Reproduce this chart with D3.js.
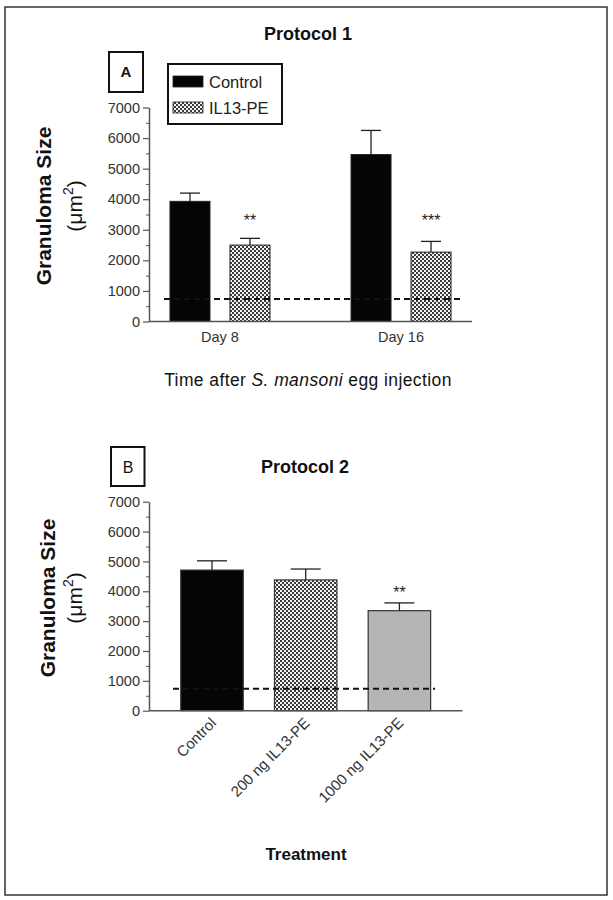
<!DOCTYPE html>
<html>
<head>
<meta charset="utf-8">
<script src="https://cdn.jsdelivr.net/npm/d3@7"></script>
<style>
  html, body { margin: 0; padding: 0; background: #fff; }
  svg { display: block; }
  text { font-family: "Liberation Sans", Arial, Helvetica, sans-serif; }
</style>
</head>
<body>
<svg id="chart" width="613" height="900"></svg>
<script>
// ---------- data ----------
const yTickValues = [0, 1000, 2000, 3000, 4000, 5000, 6000, 7000];
const yMinorValues = [500, 1500, 2500, 3500, 4500, 5500, 6500];

// Panel A (Protocol 1)
const daysA = ["Day 8", "Day 16"];
const seriesA = ["Control", "IL13-PE"];
const controlMeanA = [3930, 5460];
const controlUpperA = [4200, 6250];
const il13MeanA = [2500, 2270];
const il13UpperA = [2720, 2620];
const il13SigA = ["**", "***"];
const baselineA = 740;

// Panel B (Protocol 2)
const treatmentsB = ["Control", "200 ng IL13-PE", "1000 ng IL13-PE"];
const meanB = [4710, 4380, 3350];
const upperB = [5020, 4745, 3610];
const sigB = ["", "", "**"];
const baselineB = 735;

// ---------- setup ----------
const svg = d3.select("#chart");
const FONT = '"Liberation Sans", Arial, Helvetica, sans-serif';

const defs = svg.append("defs");
const pat = defs.append("pattern")
  .attr("id", "hatch")
  .attr("patternUnits", "userSpaceOnUse")
  .attr("width", 4).attr("height", 4);
pat.append("rect").attr("width", 4).attr("height", 4).attr("fill", "#f4f4f4");
pat.append("rect").attr("x", 0).attr("y", 0).attr("width", 2).attr("height", 2).attr("fill", "#3a3a3a");
pat.append("rect").attr("x", 2).attr("y", 2).attr("width", 2).attr("height", 2).attr("fill", "#3a3a3a");

// outer frame
svg.append("rect")
  .attr("x", 5).attr("y", 7).attr("width", 602).attr("height", 888)
  .attr("fill", "none").attr("stroke", "#333").attr("stroke-width", 1.5);

function yAxis(g, y, x0) {
  const ax = g.append("g").attr("transform", `translate(${x0},0)`)
    .call(d3.axisLeft(y).tickValues(yTickValues).tickSize(6).tickSizeOuter(0).tickPadding(3).tickFormat(d3.format("d")));
  ax.select(".domain").attr("stroke", "#555").attr("stroke-width", 1.5);
  ax.selectAll(".tick line").attr("stroke", "#555").attr("stroke-width", 1.2);
  ax.selectAll(".tick text").attr("font-size", 14.5).attr("fill", "#333").attr("font-family", FONT);
  const mn = g.append("g").attr("transform", `translate(${x0},0)`)
    .call(d3.axisLeft(y).tickValues(yMinorValues).tickSize(3).tickSizeOuter(0).tickFormat(""));
  mn.select(".domain").remove();
  mn.selectAll(".tick line").attr("stroke", "#555").attr("stroke-width", 1);
}

function yTitle(g, xMain, xUnit, cy) {
  g.append("text")
    .attr("transform", `translate(${xMain},${cy}) rotate(-90)`)
    .attr("text-anchor", "middle")
    .attr("font-size", 21).attr("font-weight", "bold").attr("fill", "#111")
    .text("Granuloma Size");
  const t = g.append("text")
    .attr("transform", `translate(${xUnit},${cy}) rotate(-90)`)
    .attr("text-anchor", "middle")
    .attr("font-size", 21).attr("fill", "#111");
  t.append("tspan").text("(\u03BCm");
  t.append("tspan").attr("font-size", 14).attr("dy", -9).text("2");
  t.append("tspan").attr("dy", 9).text(")");
}

function errorBar(g, cx, yTop, yUp, cap) {
  g.append("line").attr("x1", cx).attr("x2", cx).attr("y1", yTop).attr("y2", yUp)
    .attr("stroke", "#222").attr("stroke-width", 1.3);
  g.append("line").attr("x1", cx - cap / 2).attr("x2", cx + cap / 2).attr("y1", yUp).attr("y2", yUp)
    .attr("stroke", "#222").attr("stroke-width", 1.3);
}

// ---------- Panel A ----------
const gA = svg.append("g");
const xA = d3.scalePoint().domain(daysA).range([149, 472]).padding(0.392);
const xAi = d3.scaleBand().domain(seriesA).range([-50, 50]).paddingInner(1 / 3).paddingOuter(0);
const yA = d3.scaleLinear().domain([0, 7000]).range([321.5, 107.5]);

gA.append("text").attr("x", 308).attr("y", 40).attr("text-anchor", "middle")
  .attr("font-size", 18).attr("font-weight", "bold").attr("fill", "#111").text("Protocol 1");

// "A" label box
gA.append("rect").attr("x", 109).attr("y", 52).attr("width", 34).attr("height", 40)
  .attr("fill", "#fff").attr("stroke", "#111").attr("stroke-width", 2);
gA.append("text").attr("x", 126).attr("y", 77).attr("text-anchor", "middle")
  .attr("font-size", 15).attr("font-weight", "bold").attr("fill", "#111").text("A");

yAxis(gA, yA, 149);
yTitle(gA, 51, 82, 206);

const barsA = [];
daysA.forEach((d, i) => {
  barsA.push({ day: d, s: "Control", mean: controlMeanA[i], up: controlUpperA[i], sig: "" });
  barsA.push({ day: d, s: "IL13-PE", mean: il13MeanA[i], up: il13UpperA[i], sig: il13SigA[i] });
});
barsA.forEach(b => {
  const x = xA(b.day) + xAi(b.s);
  const w = xAi.bandwidth();
  gA.append("rect").attr("x", x).attr("y", yA(b.mean)).attr("width", w).attr("height", yA(0) - yA(b.mean))
    .attr("fill", b.s === "Control" ? "#050505" : "url(#hatch)")
    .attr("stroke", "#222").attr("stroke-width", 1);
  errorBar(gA, x + w / 2, yA(b.mean), yA(b.up), 20);
  if (b.sig) {
    gA.append("text").attr("x", x + w / 2).attr("y", 226).attr("text-anchor", "middle")
      .attr("font-size", 16).attr("fill", "#222").text(b.sig);
  }
});

// x axis A
gA.append("line").attr("x1", 149).attr("x2", 472).attr("y1", yA(0)).attr("y2", yA(0))
  .attr("stroke", "#555").attr("stroke-width", 1.5);
daysA.forEach(d => {
  gA.append("text").attr("x", xA(d)).attr("y", 342).attr("text-anchor", "middle")
    .attr("font-size", 14.5).attr("fill", "#333").text(d);
});

// dashed baseline A
gA.append("line").attr("x1", 164).attr("x2", 462).attr("y1", yA(baselineA)).attr("y2", yA(baselineA))
  .attr("stroke", "#111").attr("stroke-width", 2).attr("stroke-dasharray", "6,4");

// legend A
gA.append("rect").attr("x", 168).attr("y", 64).attr("width", 114).attr("height", 60)
  .attr("fill", "#fff").attr("stroke", "#111").attr("stroke-width", 2);
seriesA.forEach((s, i) => {
  const yy = 76 + i * 26;
  gA.append("rect").attr("x", 173).attr("y", yy).attr("width", 30).attr("height", 11)
    .attr("fill", s === "Control" ? "#050505" : "url(#hatch)").attr("stroke", "#222").attr("stroke-width", 0.8);
  gA.append("text").attr("x", 209).attr("y", yy + 11.5).attr("font-size", 16.5).attr("fill", "#222").text(s);
});

// x title A
const tA = gA.append("text").attr("x", 308).attr("y", 386).attr("text-anchor", "middle")
  .attr("font-size", 17.5).attr("fill", "#111").attr("letter-spacing", 0.4);
tA.append("tspan").text("Time after ");
tA.append("tspan").attr("font-style", "italic").text("S. mansoni");
tA.append("tspan").text(" egg injection");

// ---------- Panel B ----------
const gB = svg.append("g");
const xB = d3.scaleBand().domain(treatmentsB).range([149, 462.4]).paddingInner(1 / 3).paddingOuter(0.339);
const yB = d3.scaleLinear().domain([0, 7000]).range([710.7, 501.7]);

gB.append("rect").attr("x", 111).attr("y", 447).attr("width", 33.5).attr("height", 39)
  .attr("fill", "#fff").attr("stroke", "#111").attr("stroke-width", 2);
gB.append("text").attr("x", 128).attr("y", 473).attr("text-anchor", "middle")
  .attr("font-size", 16).attr("fill", "#111").text("B");

gB.append("text").attr("x", 305).attr("y", 473).attr("text-anchor", "middle")
  .attr("font-size", 18).attr("font-weight", "bold").attr("fill", "#111").text("Protocol 2");

yAxis(gB, yB, 149);
yTitle(gB, 55, 82, 598);

const fillsB = ["#050505", "url(#hatch)", "#b5b5b5"];
treatmentsB.forEach((t, i) => {
  const x = xB(t), w = xB.bandwidth();
  gB.append("rect").attr("x", x).attr("y", yB(meanB[i])).attr("width", w).attr("height", yB(0) - yB(meanB[i]))
    .attr("fill", fillsB[i]).attr("stroke", "#333").attr("stroke-width", 1.2);
  errorBar(gB, x + w / 2, yB(meanB[i]), yB(upperB[i]), 30);
  if (sigB[i]) {
    gB.append("text").attr("x", x + w / 2).attr("y", 598).attr("text-anchor", "middle")
      .attr("font-size", 16).attr("fill", "#222").text(sigB[i]);
  }
});

gB.append("line").attr("x1", 149).attr("x2", 462.4).attr("y1", yB(0)).attr("y2", yB(0))
  .attr("stroke", "#555").attr("stroke-width", 1.5);

treatmentsB.forEach(t => {
  const cx = xB(t) + xB.bandwidth() / 2;
  gB.append("text").attr("transform", `translate(${cx + 5},${724}) rotate(-45)`)
    .attr("text-anchor", "end").attr("font-size", 15).attr("fill", "#333").text(t);
});

gB.append("line").attr("x1", 173).attr("x2", 435).attr("y1", yB(baselineB)).attr("y2", yB(baselineB))
  .attr("stroke", "#111").attr("stroke-width", 2).attr("stroke-dasharray", "6,4");

gB.append("text").attr("x", 306).attr("y", 860).attr("text-anchor", "middle")
  .attr("font-size", 17).attr("font-weight", "bold").attr("fill", "#111").text("Treatment");
</script>
</body>
</html>
